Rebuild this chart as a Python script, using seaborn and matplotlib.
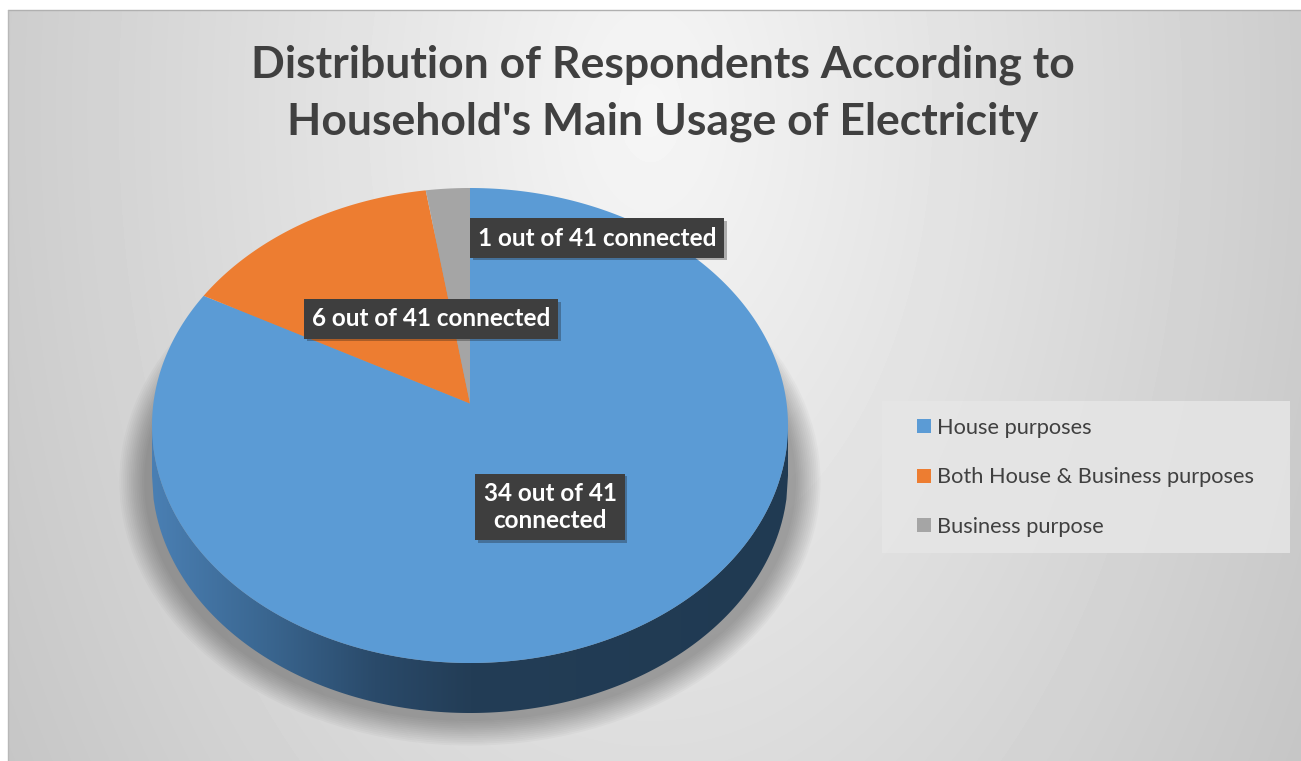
import numpy as np
import matplotlib
matplotlib.use("Agg")
import matplotlib.pyplot as plt
import seaborn as sns
from matplotlib.patches import Polygon, Ellipse, Rectangle
from matplotlib.colors import LinearSegmentedColormap
from matplotlib.path import Path
from matplotlib.transforms import Transform
import matplotlib.patheffects as pe

# ---------------- data ----------------
categories = ["House purposes", "Both House & Business purposes", "Business purpose"]
counts = [34, 6, 1]
total = 41
label_texts = ["34 out of 41\nconnected", "6 out of 41 connected", "1 out of 41 connected"]
title = "Distribution of Respondents According to\nHousehold's Main Usage of Electricity"
colors = ["#5b9bd5", "#ed7d31", "#a5a5a5"]

# ---------------- style ----------------
sns.set_theme(style="white")
plt.rcParams['font.family'] = ['Lato', 'DejaVu Sans']
palette = sns.color_palette(colors)

W, H = 1301, 761
fig = plt.figure(figsize=(W / 100, H / 100), dpi=100)
fig.patch.set_facecolor("white")


def flatten(path, n=32):
    pts = []
    for seg, code in path.iter_bezier():
        if seg.degree == 0:
            pts.append(np.atleast_2d(seg.control_points))
            continue
        t = np.linspace(0, 1, n)[1:]
        pts.append(seg(t))
    return np.vstack(pts)


class Perspective(Transform):
    """Projective tilt that keeps the unit circle but moves its centre up (3D look)."""
    input_dims = 2
    output_dims = 2
    is_separable = False
    has_inverse = False

    def __init__(self, a):
        super().__init__()
        self.a = a

    def transform_non_affine(self, values):
        v = np.asarray(values, dtype=float)
        x, y = v[:, 0], v[:, 1]
        den = 1 + self.a * y
        return np.column_stack([x * np.sqrt(1 - self.a ** 2) / den, (y + self.a) / den])

    def transform_path_non_affine(self, path):
        verts = flatten(path)
        return Path(self.transform_non_affine(verts))


# background axes in pixel coordinates
bg = fig.add_axes([0, 0, 1, 1])
bg.set_xlim(0, W)
bg.set_ylim(H, 0)
bg.axis('off')

x0, y0 = 8, 10
yy, xx = np.mgrid[y0:H, x0:W].astype(float)
d = np.sqrt(((xx - 650) / 800) ** 2 + ((yy - 110) / 1300) ** 2)
v = np.clip(0.965 - 0.2 * d, 0, 1)
bg.imshow(v, cmap="gray", vmin=0, vmax=1, extent=[x0, W, H, y0], aspect='auto',
          interpolation='bilinear', zorder=0)
bg.plot([x0, W], [y0, y0], color="#b0b0b0", lw=1, zorder=1)
bg.plot([x0, x0], [y0, H], color="#b8b8b8", lw=1, zorder=1)

# pie geometry (pixels)
cx, cy, rx, ry, depth = 470, 425.5, 318, 237.5, 50

# soft shadow
for i in range(14):
    grow = 14 - i
    e = Ellipse((cx, cy + depth + 6), 2 * (rx + 6 + grow * 1.9), 2 * (ry + grow * 1.9),
                facecolor="black", edgecolor="none", alpha=0.022, zorder=2)
    bg.add_patch(e)

# side band of the 3D pie
xs = np.linspace(cx - rx, cx + rx, 400)
upper = cy + ry * np.sqrt(np.clip(1 - ((xs - cx) / rx) ** 2, 0, 1))
lower = upper + depth
poly_pts = np.concatenate([np.column_stack([xs, upper]), np.column_stack([xs[::-1], lower[::-1]])])
band = Polygon(poly_pts, closed=True, facecolor="none", edgecolor="none", zorder=3)
bg.add_patch(band)
side_cmap = LinearSegmentedColormap.from_list(
    "side", [(0, "#4a7fb3"), (0.18, "#3a6690"), (0.35, "#2a4a6a"), (0.5, "#233d56"), (1, "#203a52")])
grad = np.linspace(0, 1, 256)[None, :]
im = bg.imshow(grad, cmap=side_cmap, extent=[cx - rx, cx + rx, cy + ry + depth, cy], aspect='auto', zorder=3)
im.set_clip_path(band)

# pie top face
pax = fig.add_axes([(cx - rx) / W, 1 - (cy + ry) / H, 2 * rx / W, 2 * ry / H])
wedges, _ = pax.pie(counts, colors=palette, startangle=90, counterclock=False, radius=1,
                    wedgeprops=dict(linewidth=0))
pax.set_xlim(-1, 1)
pax.set_ylim(-1, 1)
pax.set_aspect('auto')
pax.axis('off')
tilt = Perspective(22 / ry)
for w in wedges:
    w.set_transform(tilt + pax.transData)

# overlay axes for text
fg = fig.add_axes([0, 0, 1, 1])
fg.set_xlim(0, W)
fg.set_ylim(H, 0)
fg.axis('off')
fg.patch.set_alpha(0)

fg.text(663, 93, title, ha='center', va='center', fontsize=32, fontweight='bold',
        color="#404040", linespacing=1.5)

label_pos = [(550, 507), (431, 319), (597, 238)]
for txt, (lx, ly) in zip(label_texts, label_pos):
    t = fg.text(lx, ly, txt, ha='center', va='center', fontsize=17.5, fontweight='bold',
                color="white", linespacing=1.26,
                bbox=dict(boxstyle="square,pad=0.33", facecolor="#3e3e3e", edgecolor="none",
                          linewidth=0))
    t.get_bbox_patch().set_path_effects([pe.SimplePatchShadow(offset=(2, -2), alpha=0.3), pe.Normal()])

# legend
fg.add_patch(Rectangle((882, 401), 408, 152, facecolor="#e6e6e6", edgecolor="none", alpha=0.85, zorder=0))
leg = fg.legend(wedges, categories, loc='upper left', bbox_to_anchor=(917 / W, 1 - 418 / H),
                frameon=False, fontsize=15.7, labelcolor="#404040", handlelength=0.62,
                handleheight=0.62, handletextpad=0.28, labelspacing=1.35, borderpad=0, borderaxespad=0)

fig.savefig("out.png", dpi=100)
